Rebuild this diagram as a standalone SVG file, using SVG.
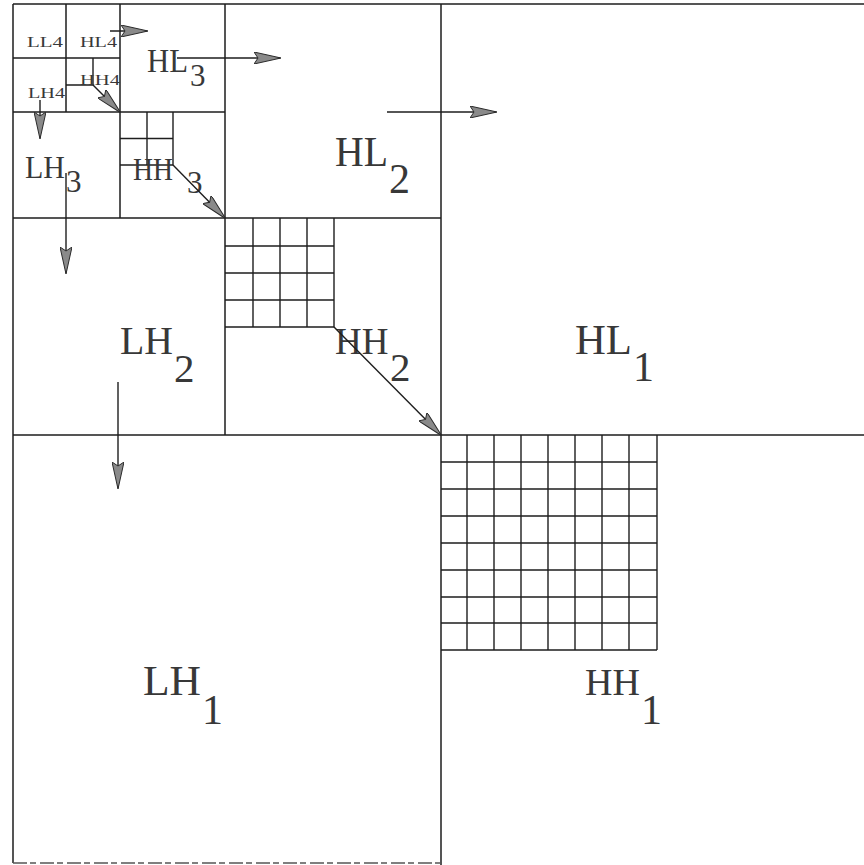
<svg xmlns="http://www.w3.org/2000/svg" width="864" height="865" viewBox="0 0 864 865">
<defs>
<style>
.ln{stroke:#1e1e1e;stroke-width:1.5;fill:none}
.gd{stroke:#1e1e1e;stroke-width:1.4;fill:none}
.ar{stroke:#1e1e1e;stroke-width:1.4;fill:none;marker-end:url(#ah)}
.lb{font-family:"Liberation Serif","Times New Roman",serif;fill:#383838}
.big{font-size:42px}
.mid{font-size:31px}
.sm{font-size:15px}
</style>
<marker id="ah" viewBox="0 0 27 12" refX="26" refY="6" markerWidth="27" markerHeight="12" markerUnits="userSpaceOnUse" orient="auto">
<path d="M0,0 L27,6 L0,12 L4,6 Z" fill="#8a8a8a" stroke="#2a2a2a" stroke-width="1"/>
</marker>
</defs>
<rect width="864" height="865" fill="#fff"/>
<g id="frame">
<path class="ln" d="M13,4 H864 M13,4 V863 M441,4 V865 M13,435 H864"/>
<path class="ln" d="M225,4 V435 M13,218 H441"/>
<path class="ln" d="M120,4 V218 M13,112 H225"/>
<path class="ln" d="M66,4 V112 M13,58 H120"/>
<path d="M13,863 H441" stroke="#555" stroke-width="1.5" stroke-dasharray="14,3,6,4" fill="none"/>
</g>
<g id="LL4"><text class="lb sm" x="27" y="47" textLength="36" lengthAdjust="spacingAndGlyphs">LL4</text></g>
<g id="HL4"><text class="lb sm" x="80" y="47" textLength="37" lengthAdjust="spacingAndGlyphs">HL4</text></g>
<g id="LH4"><text class="lb sm" x="28" y="98" textLength="37" lengthAdjust="spacingAndGlyphs">LH4</text></g>
<g id="HH4">
<path class="gd" d="M66,85 H93 V58"/>
<text class="lb sm" x="80" y="85" textLength="40" lengthAdjust="spacingAndGlyphs">HH4</text>
</g>
<g id="HL3"><text class="lb" style="font-size:33px" x="147" y="72" textLength="41" lengthAdjust="spacingAndGlyphs">HL</text><text class="lb mid" x="190" y="86">3</text></g>
<g id="LH3"><text class="lb mid" x="25" y="178" textLength="40" lengthAdjust="spacingAndGlyphs">LH</text><text class="lb mid" x="66" y="192">3</text></g>
<g id="HH3">
<path class="gd" d="M120,138.5 H173 M147,112 V165 M173,112 V165 M120,165 H173"/>
<text class="lb mid" x="133" y="180" textLength="40" lengthAdjust="spacingAndGlyphs">HH</text><text class="lb mid" x="187" y="193">3</text>
</g>
<g id="HL2"><text class="lb big" x="335" y="166" textLength="53" lengthAdjust="spacingAndGlyphs">HL</text><text class="lb big" x="389" y="193">2</text></g>
<g id="LH2"><text class="lb" style="font-size:41px" x="120" y="354" textLength="53" lengthAdjust="spacingAndGlyphs">LH</text><text class="lb" style="font-size:41px" x="174" y="382">2</text></g>
<g id="HH2">
<path class="gd" d="M225,246 H334 M225,273 H334 M225,300 H334 M225,327 H334 M253,218 V327 M280,218 V327 M307,218 V327 M334,218 V327"/>
<text class="lb" style="font-size:37px" x="335" y="354">HH</text><text class="lb" style="font-size:41px" x="390" y="381">2</text>
</g>
<g id="HL1"><text class="lb big" x="575" y="354" textLength="57" lengthAdjust="spacingAndGlyphs">HL</text><text class="lb big" x="633" y="381">1</text></g>
<g id="LH1"><text class="lb big" x="143" y="695" textLength="58" lengthAdjust="spacingAndGlyphs">LH</text><text class="lb big" x="202" y="724">1</text></g>
<g id="HH1">
<path class="gd" d="M441,462 H657 M441,489 H657 M441,516 H657 M441,543 H657 M441,570 H657 M441,597 H657 M441,623 H657 M441,650 H657 M467,435 V650 M494,435 V650 M521,435 V650 M548,435 V650 M575,435 V650 M602,435 V650 M629,435 V650 M657,435 V650"/>
<text class="lb" style="font-size:38px" x="585" y="695">HH</text><text class="lb big" x="641" y="724">1</text>
</g>
<g id="connectors">
<path class="ar" d="M110,31 H147"/>
<path class="ar" d="M177,58 H280"/>
<path class="ar" d="M387,112 H496"/>
<path class="ar" d="M40,100 V138"/>
<path class="ar" d="M66,173 V273"/>
<path class="ar" d="M118,382 V488"/>
<path class="ar" d="M93,85 L120,112"/>
<path class="ar" d="M173,165 L225,218"/>
<path class="ar" d="M334,327 L441,435"/>
</g>
</svg>
